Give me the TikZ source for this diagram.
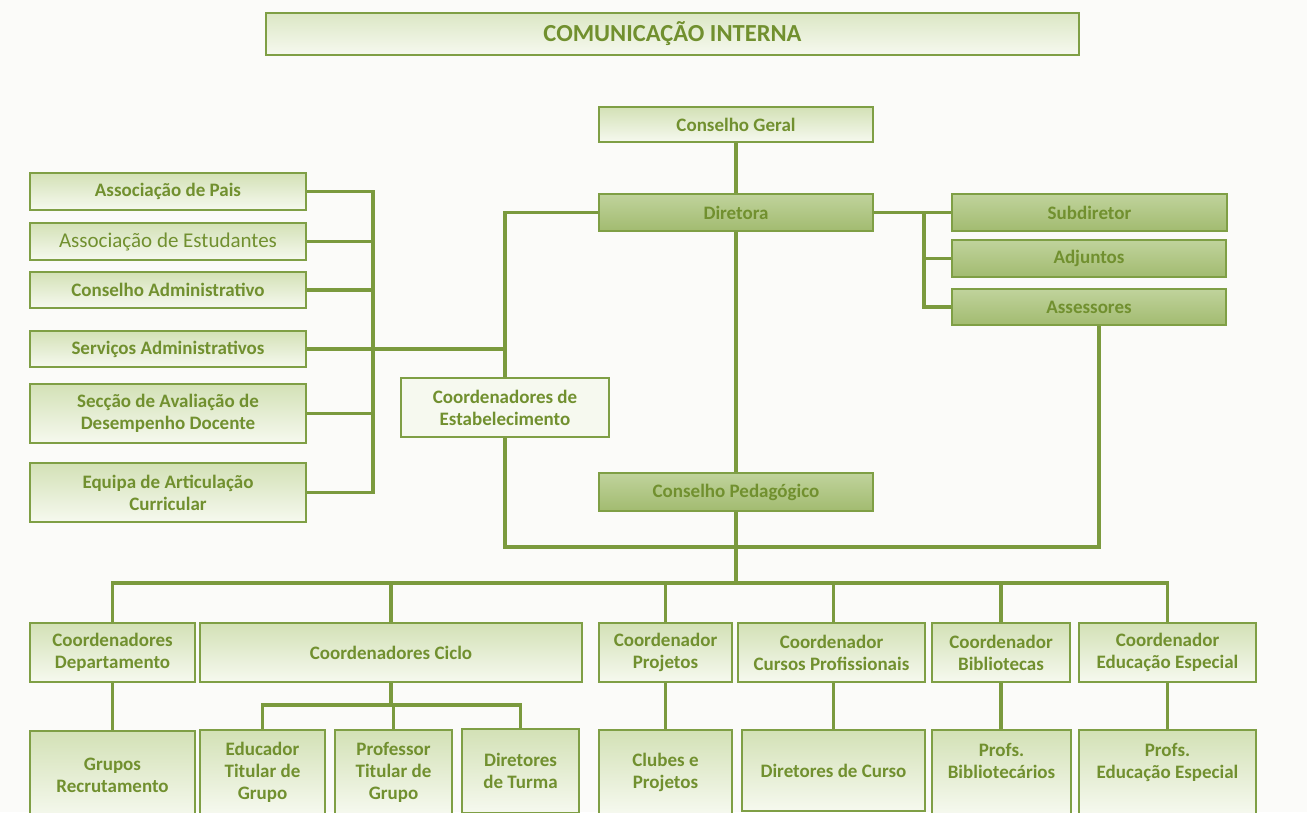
\documentclass[tikz,border=0pt]{standalone}
\usepackage{fontspec}
\setmainfont{Carlito}
\definecolor{tgreen}{HTML}{71902F}
\definecolor{bdr}{HTML}{7F9F45}
\definecolor{lgreen}{HTML}{7B9A3E}
\definecolor{lt1}{HTML}{D3E1B6}
\definecolor{lt2}{HTML}{F6F9EF}
\definecolor{dk1}{HTML}{C0D39C}
\definecolor{dk2}{HTML}{A2BB70}
\definecolor{bg}{HTML}{FBFBF9}
\begin{document}
\begin{tikzpicture}[x=1pt,y=-1pt,
  box/.style={draw=bdr, line width=1.6pt, top color=lt1, bottom color=lt2,
    text=tgreen, font=\fontsize{19}{22}\selectfont\bfseries, align=center, inner sep=0pt},
  dbox/.style={box, top color=dk1, bottom color=dk2},
  conn/.style={draw=lgreen, line width=3.2pt}]
\clip (0,0) rectangle (1307,812);
\fill[bg] (0,0) rectangle (1307,812);
% title
\node[box, top color=lt1!80!white, bottom color=lt2, minimum width=813, minimum height=42,
  font=\fontsize{24.5}{28}\selectfont\bfseries] (title) at (672.5,34) {COMUNICAÇÃO INTERNA};
% centre column
\node[box, minimum width=274, minimum height=35] (cg) at (736,124.5) {Conselho Geral};
\node[dbox, minimum width=274, minimum height=37] (dir) at (736,212.5) {Diretora};
\node[dbox, minimum width=274, minimum height=38] (cp) at (736,492) {Conselho Pedagógico};
% right column
\node[dbox, minimum width=275, minimum height=37] (sub) at (1089.5,212.5) {Subdiretor};
\node[dbox, minimum width=274, minimum height=37] (adj) at (1089,258.5) {Adjuntos};
\node[dbox, minimum width=274, minimum height=36] (ass) at (1089,307) {Assessores};
% left column
\node[box, minimum width=276, minimum height=37] (ap) at (168,191.5) {Associação de Pais};
\node[box, minimum width=276, minimum height=37, font=\fontsize{21}{24}\selectfont] (ae) at (168,241.5) {Associação de Estudantes};
\node[box, minimum width=276, minimum height=36] (ca) at (168,290) {Conselho Administrativo};
\node[box, minimum width=276, minimum height=36] (sa) at (168,349) {Serviços Administrativos};
\node[box, minimum width=276, minimum height=59] (sec) at (168,413.5) {Secção de Avaliação de\\Desempenho Docente};
\node[box, minimum width=276, minimum height=59] (eq) at (168,492.5) {Equipa de Articulação\\Curricular};
\node[box, minimum width=208, minimum height=59, top color=lt2, bottom color=lt2] (ce) at (505,407.5) {Coordenadores de\\Estabelecimento};
% coordinators row
\node[box, minimum width=165, minimum height=59] (cd) at (112.5,652.5) {Coordenadores\\Departamento};
\node[box, minimum width=382, minimum height=59] (cc) at (391,652.5) {Coordenadores Ciclo};
\node[box, minimum width=133, minimum height=59] (cpj) at (665.5,652.5) {Coordenador\\Projetos};
\node[box, minimum width=187, minimum height=59] (ccp) at (831.5,652.5) {Coordenador\\Cursos Profissionais};
\node[box, minimum width=138, minimum height=59] (cb) at (1001,652.5) {Coordenador\\Bibliotecas};
\node[box, minimum width=177, minimum height=59] (cee) at (1167.5,652.5) {Coordenador\\Educação Especial};
% bottom row
\node[box, minimum width=165, minimum height=88] (gr) at (112.5,775) {Grupos\\Recrutamento};
\node[box, minimum width=125, minimum height=84] (edu) at (262.5,772) {Educador\\Titular de\\Grupo};
\node[box, minimum width=117, minimum height=84] (prof) at (393.5,772) {Professor\\Titular de\\Grupo};
\node[box, minimum width=117, minimum height=84] (dt) at (520.5,771) {Diretores\\de Turma};
\node[box, minimum width=133, minimum height=84] (clu) at (665.5,772) {Clubes e\\Projetos};
\node[box, minimum width=183, minimum height=81] (dc) at (833.5,770.5) {Diretores de Curso};
\node[box, minimum width=139, minimum height=84] (pb) at (1001.5,772) {Profs.\\Bibliotecários\\\mbox{}};
\node[box, minimum width=177, minimum height=84] (pee) at (1167.5,772) {Profs.\\Educação Especial\\\mbox{}};
% junction coordinates
\coordinate (bus) at (736,583);
\coordinate (rj) at (924,212.5);
\coordinate (lb) at (373,348);
\coordinate (loop) at (736,547);
\coordinate (ccbus) at (391,705);
% connectors
\draw[conn] (cg.south) -- (dir.north);
\draw[conn] (dir.south) -- (cp.north);
\draw[conn] (cp.south) -- (bus);
\draw[conn] (dir.east) -- (sub.west);
\draw[conn] (adj.west) -| (rj);
\draw[conn] (ass.west) -| (rj);
\draw[conn] (dir.west) -| (ce.north);
\draw[conn] (ce.south) |- (loop) -| ([xshift=10pt]ass.south);
\draw[conn] (ap.east) -| (lb);
\draw[conn] (ae.east) -| (lb);
\draw[conn] (ca.east) -| (lb);
\draw[conn] (sec.east) -| (lb);
\draw[conn] (eq.east) -| (lb);
\draw[conn] (sa.east) -- (sa.east -| ce.north);
\draw[conn] (cd.north) |- (bus);
\draw[conn] (cc.north) |- (bus);
\draw[conn] (cpj.north) |- (bus);
\draw[conn] (dc.north |- ccp.north) |- (bus);
\draw[conn] (cb.north) |- (bus);
\draw[conn] (cee.north) |- (bus);
\draw[conn] (cd.south) -- (gr.north);
\draw[conn] (cc.south) -- (ccbus);
\draw[conn] (edu.north) |- (ccbus);
\draw[conn] (prof.north) |- (ccbus);
\draw[conn] (dt.north) |- (ccbus);
\draw[conn] (cpj.south) -- (clu.north);
\draw[conn] (dc.north |- ccp.south) -- (dc.north);
\draw[conn] (cb.south) -- (cb.south |- pb.north);
\draw[conn] (cee.south) -- (pee.north);
\end{tikzpicture}
\end{document}
